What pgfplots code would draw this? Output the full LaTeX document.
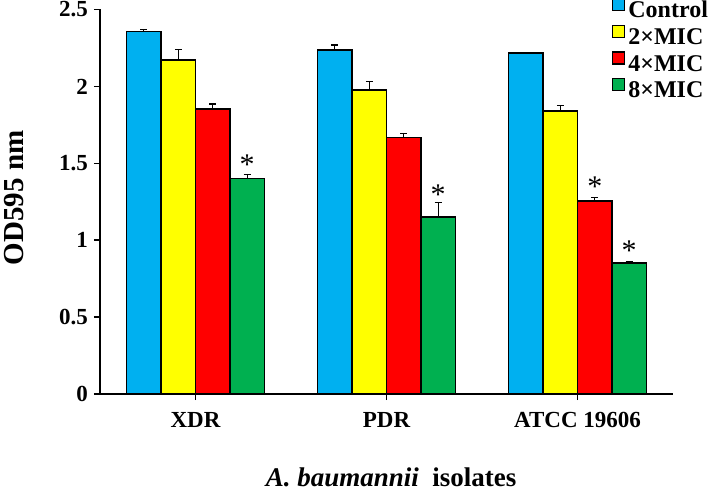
\documentclass[border=0pt]{standalone}
\usepackage{fontspec}
\setmainfont{Liberation Serif}
\usepackage{pgfplots}
\pgfplotsset{compat=1.18}
\definecolor{cblue}{HTML}{00B0F0}
\definecolor{cyellow}{HTML}{FFFF00}
\definecolor{cred}{HTML}{FF0000}
\definecolor{cgreen}{HTML}{00B050}
\pgfplotsset{
  errstyle/.style={/pgfplots/error bars/y dir=plus, /pgfplots/error bars/y explicit,
    /pgfplots/error bars/error bar style={line width=1.3pt, black},
    /pgfplots/error bars/error mark options={rotate=90, mark size=3.5pt, line width=1.3pt, black}},
}
\begin{document}
\begin{tikzpicture}
\useasboundingbox (0,0) rectangle (708pt,492pt);
\begin{axis}[
  at={(100pt,98pt)}, anchor=south west,
  scale only axis, width=573pt, height=384.5pt,
  xmin=-0.5, xmax=2.5, ymin=0, ymax=2.5,
  ybar=0pt, bar width=34.5pt, bar shift=0pt,
  axis x line*=bottom, axis y line*=left,
  xtick pos=bottom, ytick pos=left,
  axis line style={line width=1.8pt, -},
  xtick={0,1,2}, xticklabels={XDR,PDR,ATCC 19606},
  ytick={0,0.5,1,1.5,2,2.5},
  yticklabels={0,0.5,1,1.5,2,2.5},
  tick align=outside, major tick length=6pt,
  tick style={line width=1.5pt, black},
  font=\bfseries\fontsize{23}{27}\selectfont,
  /pgf/number format/assume math mode=true,
  xticklabel style={inner sep=0pt, yshift=-12pt},
  yticklabel style={inner sep=0pt, xshift=-6pt},
  ylabel={OD595 nm},
  ylabel style={at={(axis description cs:-0.150,0.51)}, anchor=center, font=\bfseries\fontsize{29}{32}\selectfont},
  xlabel={\textit{A. baumannii}\ \ isolates},
  xlabel style={at={(axis description cs:0.508,-0.216)}, anchor=center, font=\bfseries\fontsize{27}{30}\selectfont},
  legend style={draw=none, fill=none, at={(0.8935,1.03)}, anchor=north west,
    inner sep=0pt, outer sep=0pt, row sep=0pt, column sep=3pt,
    nodes={inner sep=0pt, text height=18pt, text depth=7pt},
    font=\bfseries\fontsize{24}{27}\selectfont},
  legend cell align=left,
  legend image code/.code={\draw[#1, draw=black, line width=1.4pt] (0pt,1.5pt) rectangle (12pt,13.5pt);},
  clip=false,
]
\addplot[errstyle, fill=cblue, draw=black, line width=1.7pt] coordinates {(-0.2709,2.356) +- (0,0.014) (0.7291,2.237) +- (0,0.033) (1.7291,2.215) +- (0,0.007)};
\addplot[errstyle, fill=cyellow, draw=black, line width=1.7pt] coordinates {(-0.0903,2.170) +- (0,0.070) (0.9097,1.977) +- (0,0.053) (1.9097,1.842) +- (0,0.035)};
\addplot[errstyle, fill=cred, draw=black, line width=1.7pt] coordinates {(0.0903,1.855) +- (0,0.031) (1.0903,1.667) +- (0,0.028) (2.0903,1.255) +- (0,0.024)};
\addplot[errstyle, fill=cgreen, draw=black, line width=1.7pt] coordinates {(0.2709,1.402) +- (0,0.026) (1.2709,1.149) +- (0,0.097) (2.2709,0.854) +- (0,0.004)};
\legend{Control, 2×MIC, 4×MIC, 8×MIC}
\addplot[draw=none, fill=none, forget plot, nodes near coords, point meta=explicit symbolic,
  every node near coord/.style={anchor=center, inner sep=0pt, font=\mdseries\fontsize{30}{30}\selectfont}]
  coordinates {(0.2709,1.49) [*] (1.2709,1.295) [*] (2.0903,1.347) [*] (2.2709,0.935) [*]};
\end{axis}
\end{tikzpicture}
\end{document}
